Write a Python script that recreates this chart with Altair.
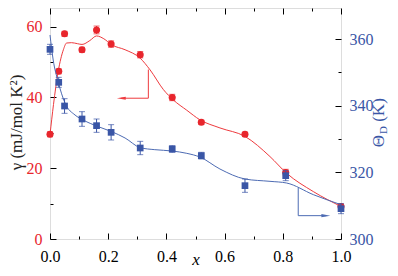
import altair as alt
import pandas as pd

RED = "#e8262d"
BLUE = "#3a56a6"
RED_LINE = "#ee3a3e"
BLUE_LINE = "#4d6bb3"
FONT = "Liberation Serif"

# measured points
x_pts = [0.0, 0.03, 0.05, 0.11, 0.16, 0.21, 0.31, 0.42, 0.52, 0.67, 0.81, 1.0]
gamma = [29.6, 47.4, 58.0, 53.5, 59.1, 55.1, 52.1, 40.0, 33.0, 29.6, 18.8, 9.2]
gamma_err = [0.7, 0.7, 0.7, 0.7, 1.1, 0.9, 0.9, 0.9, 0.6, 0.6, 0.9, 0.7]
theta = [356.9, 347.0, 339.9, 336.0, 334.0, 332.0, 327.3, 327.0, 325.0, 316.0, 319.0, 309.1]
theta_err = [1.5, 1.5, 2.2, 2.2, 2.0, 2.3, 2.0, 1.0, 1.0, 2.0, 1.5, 1.5]

# guide-to-the-eye curves
rc_x = [0.0, 0.012, 0.028, 0.046, 0.057, 0.074, 0.095, 0.11, 0.137, 0.16, 0.185, 0.212,
        0.258, 0.31, 0.344, 0.39, 0.424, 0.47, 0.515, 0.584, 0.67, 0.756, 0.813, 0.905, 1.0]
rc_y = [29.5, 38.0, 47.3, 53.5, 55.4, 55.5, 55.2, 55.0, 56.1, 57.4, 56.6, 54.9,
        53.5, 51.1, 47.8, 42.2, 39.3, 36.4, 33.7, 31.4, 29.0, 23.3, 18.6, 13.4, 9.2]
bc_x = [0.0, 0.011, 0.028, 0.052, 0.086, 0.114, 0.166, 0.212, 0.258, 0.31, 0.36, 0.42,
        0.47, 0.515, 0.584, 0.67, 0.756, 0.813, 0.905, 1.0]
bc_y = [361.2, 353.7, 347.2, 340.7, 337.2, 335.7, 333.7, 332.2, 330.3, 327.4, 326.8, 326.4,
        325.7, 324.6, 321.0, 318.0, 317.3, 316.8, 313.3, 310.3]

# annotation arrows (data coordinates)
ra_x = [0.338, 0.338, 0.245]
ra_y = [47.9, 39.8, 39.8]
ba_x = [0.853, 0.853, 0.948]
ba_y = [315.3, 307.0, 307.0]

x_major = [0.0, 0.2, 0.4, 0.6, 0.8, 1.0]
x_minor = [0.1, 0.3, 0.5, 0.7, 0.9]
g_major = [0, 20, 40, 60]
g_minor = [10, 30, 50]
t_major = [300, 320, 340, 360]
t_minor = [310, 330, 350]

GDOM = [0, 65.3]
TDOM = [300, 369.3]

pts = pd.DataFrame({"x": x_pts, "g": gamma, "t": theta,
                    "glo": [a - b for a, b in zip(gamma, gamma_err)],
                    "ghi": [a + b for a, b in zip(gamma, gamma_err)],
                    "tlo": [a - b for a, b in zip(theta, theta_err)],
                    "thi": [a + b for a, b in zip(theta, theta_err)]})
rcur = pd.DataFrame({"x": rc_x, "g": rc_y})
bcur = pd.DataFrame({"x": bc_x, "t": bc_y})
rarr = pd.DataFrame({"x": ra_x, "g": ra_y, "o": [0, 1, 2]})
barr = pd.DataFrame({"x": ba_x, "t": ba_y, "o": [0, 1, 2]})

xs = alt.Scale(domain=[0, 1], nice=False, zero=False)
gs = alt.Scale(domain=GDOM, nice=False, zero=False)
ts = alt.Scale(domain=TDOM, nice=False, zero=False)


def ax(orient, values, major, labels=False, color="black", pad=0, fmt=None, title=None, **kw):
    d = dict(orient=orient, values=values, domain=False, grid=False, labels=labels,
             tickSize={"expr": "-6" if major else "-3"}, tickColor="black", tickWidth=1,
             labelColor=color, labelFont=FONT, labelFontSize=16, labelPadding=pad,
             labelOverlap=False, labelFlush=False, title=title)
    if fmt:
        d["format"] = fmt
    d.update(kw)
    return alt.Axis(**d)


# ---------- red group ----------
r_curve = alt.Chart(rcur).mark_line(color=RED_LINE, strokeWidth=1, interpolate="monotone").encode(
    x=alt.X("x:Q", scale=xs, axis=ax("bottom", x_major, True, labels=True, pad=15, fmt=".1f",
                                     title="x", titleFont=FONT, titleFontSize=17,
                                     titleFontStyle="italic", titleFontWeight="normal",
                                     titleColor="black", titleY=20, titleBaseline="middle")),
    y=alt.Y("g:Q", scale=gs, axis=ax("left", g_major, True, labels=True, color=RED, pad=14,
                                     title="γ (mJ/mol K²)", titleFont=FONT, titleFontSize=17,
                                     titleFontWeight="normal", titleColor="#222222",
                                     titleX=-34, titleY=114, titleAngle=270,
                                     titleBaseline="middle", titleAlign="center")),
)
r_pts = alt.Chart(pts).mark_point(shape="circle", filled=True, color=RED, size=50, opacity=1).encode(
    x=alt.X("x:Q", scale=xs, axis=ax("bottom", x_minor, False)),
    y=alt.Y("g:Q", scale=gs, axis=ax("left", g_minor, False)),
)
r_arrow = alt.Chart(rarr).mark_line(color=RED_LINE, strokeWidth=1).encode(
    x=alt.X("x:Q", scale=xs, axis=ax("top", x_major, True)),
    y=alt.Y("g:Q", scale=gs, axis=None),
    order="o:Q",
)
r_head = alt.Chart(rarr.iloc[[2]]).mark_point(shape="M-1,0L1,-0.35L1,0.35Z", filled=True,
                                              color=RED_LINE, size=80, opacity=1).encode(
    x=alt.X("x:Q", scale=xs, axis=ax("top", x_minor, False)),
    y=alt.Y("g:Q", scale=gs, axis=None),
)
r_err = alt.Chart(pts).mark_errorbar(ticks=alt.TickConfig(size=6), color=RED, thickness=1).encode(
    x=alt.X("x:Q", scale=xs, axis=None),
    y=alt.Y("glo:Q", scale=gs, axis=None),
    y2="ghi:Q",
)
red = alt.layer(r_curve, r_pts, r_arrow, r_head, r_err).resolve_axis(x="independent", y="independent")

# ---------- blue group ----------
b_curve = alt.Chart(bcur).mark_line(color=BLUE_LINE, strokeWidth=1, interpolate="monotone").encode(
    x=alt.X("x:Q", scale=xs, axis=None),
    y=alt.Y("t:Q", scale=ts, axis=ax("right", t_major, True, labels=True, color=BLUE, pad=14)),
)
b_pts = alt.Chart(pts).mark_point(shape="square", filled=True, color=BLUE, size=45, opacity=1).encode(
    x=alt.X("x:Q", scale=xs, axis=None),
    y=alt.Y("t:Q", scale=ts, axis=ax("right", t_minor, False)),
)
b_arrow = alt.Chart(barr).mark_line(color=BLUE_LINE, strokeWidth=1).encode(
    x=alt.X("x:Q", scale=xs, axis=None),
    y=alt.Y("t:Q", scale=ts, axis=None),
    order="o:Q",
)
b_head = alt.Chart(barr.iloc[[2]]).mark_point(shape="M1,0L-1,-0.35L-1,0.35Z", filled=True,
                                              color=BLUE_LINE, size=80, opacity=1).encode(
    x=alt.X("x:Q", scale=xs, axis=None),
    y=alt.Y("t:Q", scale=ts, axis=None),
)
b_err = alt.Chart(pts).mark_errorbar(ticks=alt.TickConfig(size=6), color=BLUE, thickness=1).encode(
    x=alt.X("x:Q", scale=xs, axis=None),
    y=alt.Y("tlo:Q", scale=ts, axis=None),
    y2="thi:Q",
)
# right-axis title with a subscript D
ttl = pd.DataFrame({"s": ["Θ", "D", "(K)"]})
t_theta = alt.Chart(ttl.iloc[[0]]).mark_text(angle=270, font=FONT, fontSize=17, color=BLUE,
                                             align="center", baseline="middle").encode(
    text="s:N", x=alt.value(329), y=alt.value(133))
t_sub = alt.Chart(ttl.iloc[[1]]).mark_text(angle=270, font=FONT, fontSize=11, color=BLUE,
                                           align="center", baseline="middle").encode(
    text="s:N", x=alt.value(334), y=alt.value(122))
t_k = alt.Chart(ttl.iloc[[2]]).mark_text(angle=270, font=FONT, fontSize=17, color=BLUE,
                                         align="center", baseline="middle").encode(
    text="s:N", x=alt.value(329), y=alt.value(102))

blue = alt.layer(b_curve, b_pts, b_arrow, b_head, b_err, t_theta, t_sub, t_k).resolve_axis(
    x="independent", y="independent")

chart = alt.layer(red, blue).resolve_scale(y="independent").resolve_axis(
    x="independent", y="independent").properties(
    width=291, height=231,
    autosize=alt.AutoSizeParams(type="none"),
    padding={"left": 42, "top": 0, "right": 49, "bottom": 29},
).configure_view(stroke="black", strokeWidth=1).configure(background="white", font=FONT)

chart.save("out.html", embed_options={"renderer": "svg", "actions": False})
